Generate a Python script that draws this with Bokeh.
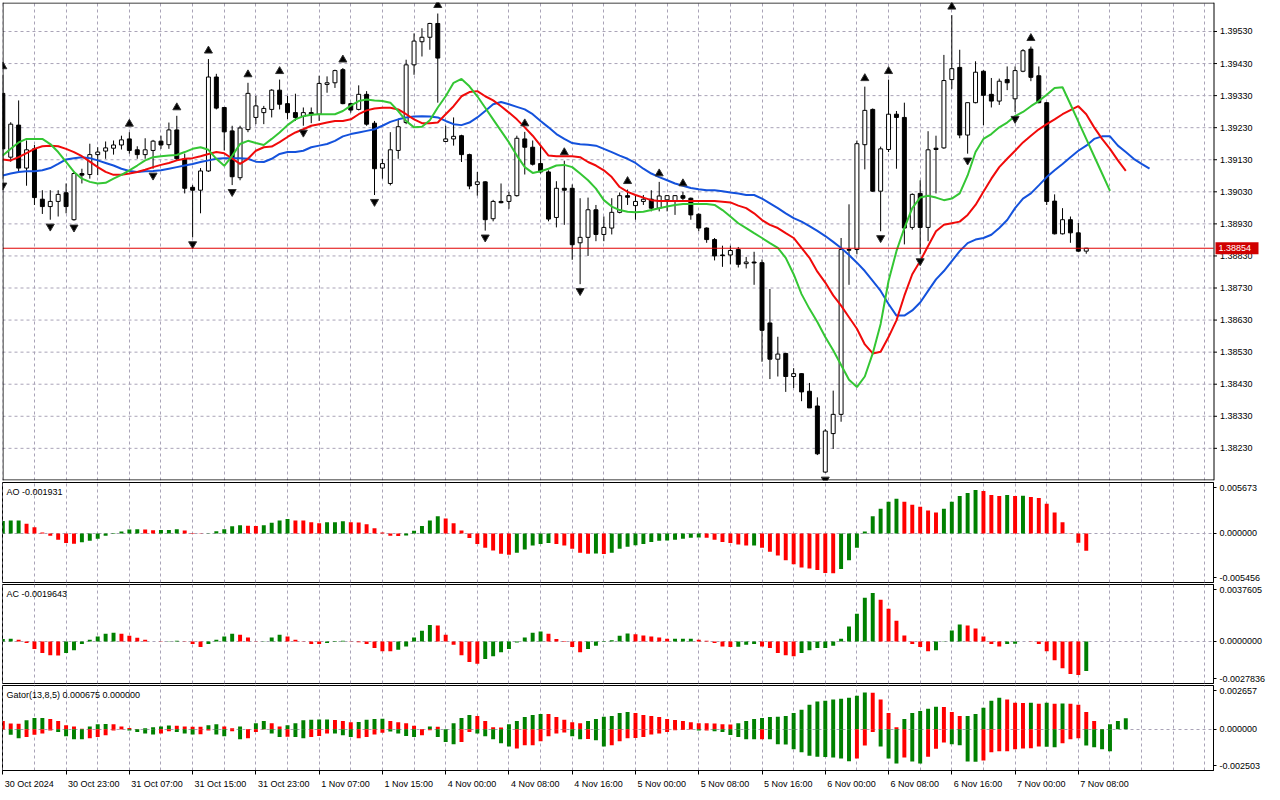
from bokeh.plotting import figure
from bokeh.models import Range1d, FixedTicker, Label
from bokeh.layouts import column
from bokeh.core.properties import value
from bokeh.embed import file_html
from bokeh.resources import INLINE

# ---------------- data ----------------
O = [1.39337,1.39138,1.39238,1.39104,1.39164,1.39007,1.38984,1.39000,1.39027,1.38943,
1.39087,1.39084,1.39146,1.39157,1.39166,1.39176,1.39195,1.39161,1.39146,1.39159,
1.39188,1.39177,1.39223,1.39133,1.39044,1.39035,1.39095,1.39388,1.39293,1.39220,
1.39074,1.39224,1.39262,1.39277,1.39287,1.39347,1.39305,1.39277,1.39265,1.39277,
1.39272,1.39365,1.39370,1.39411,1.39305,1.39287,1.39334,1.39244,1.39104,1.39056,
1.39159,1.39246,1.39426,1.39498,1.39512,1.39555,1.39187,1.39195,1.39205,1.39146,
1.39053,1.39061,1.38946,1.39000,1.39000,1.39018,1.39195,1.39169,1.39118,1.39092,
1.38950,1.39041,1.39041,1.38871,1.38888,1.38974,1.38897,1.38917,1.38966,1.39018,
1.38987,1.39000,1.39007,1.38979,1.39005,1.39001,1.39018,1.39010,1.38960,1.38917,
1.38881,1.38833,1.38833,1.38850,1.38806,1.38811,1.38809,1.38621,1.38508,1.38526,
1.38454,1.38463,1.38408,1.38362,1.38156,1.38276,1.38336,1.38850,1.38850,1.39177,
1.39287,1.39032,1.39162,1.39272,1.39262,1.38919,1.39025,1.38919,1.39166,1.39167,
1.39380,1.39418,1.39207,1.39308,1.39406,1.39334,1.39313,1.39380,1.39320,1.39406,
1.39475,1.39392,1.39308,1.39001,1.38899,1.38943,1.38902,1.38845]
H = [1.39395,1.39247,1.39315,1.39190,1.39176,1.39035,1.39035,1.39035,1.39056,1.39094,
1.39102,1.39180,1.39169,1.39187,1.39190,1.39205,1.39216,1.39172,1.39197,1.39192,
1.39205,1.39246,1.39267,1.39149,1.39051,1.39104,1.39444,1.39398,1.39294,1.39236,
1.39236,1.39370,1.39329,1.39298,1.39350,1.39380,1.39329,1.39336,1.39293,1.39293,
1.39392,1.39390,1.39411,1.39416,1.39308,1.39362,1.39344,1.39251,1.39133,1.39216,
1.39257,1.39442,1.39524,1.39540,1.39557,1.39586,1.39236,1.39262,1.39208,1.39149,
1.39092,1.39063,1.39005,1.39056,1.39030,1.39205,1.39217,1.39190,1.39174,1.39097,
1.39063,1.39127,1.39053,1.39010,1.39012,1.38989,1.38953,1.39010,1.39028,1.39037,
1.39018,1.39020,1.39035,1.39061,1.39020,1.39020,1.39030,1.39012,1.38963,1.38919,
1.38886,1.38862,1.38862,1.38858,1.38827,1.38843,1.38819,1.38727,1.38578,1.38528,
1.38480,1.38464,1.38434,1.38389,1.38290,1.38410,1.38886,1.38991,1.39190,1.39358,
1.39290,1.39171,1.39380,1.39282,1.39308,1.39025,1.39066,1.39219,1.39205,1.39457,
1.39581,1.39473,1.39308,1.39437,1.39409,1.39385,1.39383,1.39421,1.39421,1.39475,
1.39483,1.39421,1.39310,1.39022,1.38979,1.38953,1.38933,1.38855]
L = [1.39071,1.39124,1.39093,1.39049,1.38989,1.38961,1.38943,1.38953,1.38963,1.38940,
1.39056,1.39071,1.39082,1.39133,1.39146,1.39162,1.39149,1.39133,1.39133,1.39102,
1.39164,1.39164,1.39128,1.39025,1.38888,1.38963,1.39092,1.39287,1.39159,1.39051,
1.39066,1.39216,1.39241,1.39241,1.39262,1.39287,1.39257,1.39251,1.39236,1.39244,
1.39251,1.39339,1.39354,1.39303,1.39277,1.39284,1.39236,1.39020,1.39071,1.39050,
1.39133,1.39241,1.39395,1.39452,1.39473,1.39308,1.39185,1.39174,1.39123,1.39038,
1.39018,1.38909,1.38938,1.38994,1.38977,1.39015,1.39084,1.39112,1.39087,1.38938,
1.38919,1.38927,1.38818,1.38742,1.38830,1.38876,1.38876,1.38897,1.38963,1.38989,
1.38943,1.38989,1.38969,1.38969,1.38969,1.38958,1.39000,1.38943,1.38907,1.38871,
1.38816,1.38796,1.38804,1.38794,1.38791,1.38740,1.38500,1.38446,1.38454,1.38406,
1.38418,1.38377,1.38356,1.38209,1.38154,1.38228,1.38313,1.38740,1.38835,1.39100,
1.39030,1.38907,1.39154,1.39102,1.38866,1.38912,1.38835,1.38876,1.39025,1.39164,
1.39351,1.39197,1.39149,1.39306,1.39238,1.39293,1.39301,1.39347,1.39279,1.39403,
1.39375,1.39306,1.38989,1.38897,1.38897,1.38871,1.38843,1.38837]
C = [1.39164,1.39241,1.39104,1.39161,1.39012,1.38984,1.39000,1.39022,1.38984,1.39087,
1.39082,1.39146,1.39154,1.39167,1.39176,1.39192,1.39159,1.39146,1.39161,1.39188,
1.39176,1.39223,1.39133,1.39041,1.39035,1.39095,1.39388,1.39291,1.39217,1.39077,
1.39229,1.39337,1.39298,1.39290,1.39347,1.39303,1.39277,1.39262,1.39277,1.39270,
1.39368,1.39370,1.39408,1.39305,1.39285,1.39334,1.39241,1.39102,1.39118,1.39161,
1.39233,1.39426,1.39500,1.39512,1.39555,1.39447,1.39195,1.39203,1.39146,1.39048,
1.39061,1.38943,1.39000,1.38996,1.39018,1.39197,1.39169,1.39116,1.39092,1.38945,
1.39041,1.39035,1.38865,1.38888,1.38974,1.38897,1.38919,1.38966,1.39018,1.39013,
1.39000,1.39007,1.38979,1.39017,1.39018,1.39018,1.39010,1.38958,1.38917,1.38881,
1.38830,1.38831,1.38847,1.38804,1.38811,1.38808,1.38598,1.38508,1.38524,1.38454,
1.38463,1.38406,1.38356,1.38213,1.38284,1.38336,1.38850,1.38848,1.39180,1.39284,
1.39032,1.39164,1.39272,1.39262,1.38917,1.39022,1.38919,1.39161,1.39162,1.39377,
1.39414,1.39207,1.39308,1.39403,1.39331,1.39313,1.39375,1.39370,1.39408,1.39470,
1.39387,1.39308,1.39000,1.38899,1.38943,1.38902,1.38845,1.38854]

JAW = [1.39081,1.39087,1.39092,1.39094,1.39094,1.39097,1.39104,1.39117,1.39131,1.39135,
1.39138,1.39135,1.39128,1.39120,1.39112,1.39102,1.39095,1.39092,1.39094,1.39095,
1.39097,1.39102,1.39107,1.39112,1.39117,1.39123,1.39128,1.39133,1.39135,1.39135,
1.39135,1.39133,1.39124,1.39123,1.39133,1.39148,1.39154,1.39154,1.39158,1.39169,
1.39174,1.39179,1.39189,1.39203,1.39210,1.39215,1.39220,1.39225,1.39236,1.39248,
1.39256,1.39262,1.39265,1.39266,1.39265,1.39262,1.39251,1.39241,1.39238,1.39246,
1.39262,1.39282,1.39303,1.39310,1.39303,1.39295,1.39287,1.39272,1.39251,1.39231,
1.39210,1.39195,1.39182,1.39178,1.39177,1.39174,1.39164,1.39154,1.39143,1.39133,
1.39120,1.39102,1.39087,1.39076,1.39066,1.39056,1.39049,1.39042,1.39038,1.39035,
1.39035,1.39032,1.39028,1.39025,1.39020,1.39020,1.39009,1.38994,1.38979,1.38963,
1.38948,1.38937,1.38923,1.38908,1.38892,1.38874,1.38855,1.38833,1.38809,1.38783,
1.38752,1.38721,1.38680,1.38644,1.38644,1.38660,1.38685,1.38721,1.38757,1.38783,
1.38814,1.38845,1.38870,1.38881,1.38886,1.38896,1.38917,1.38942,1.38979,1.39009,
1.39025,1.39050,1.39076,1.39097,1.39117,1.39138,1.39158,1.39174,1.39195,1.39203,
1.39203,1.39174,1.39154,1.39133,1.39117,1.39102]
TEETH = [1.39131,1.39128,1.39138,1.39151,1.39164,1.39172,1.39174,1.39172,1.39164,1.39154,
1.39141,1.39124,1.39107,1.39092,1.39083,1.39083,1.39087,1.39092,1.39099,1.39107,
1.39114,1.39120,1.39128,1.39133,1.39135,1.39141,1.39148,1.39154,1.39150,1.39134,
1.39117,1.39133,1.39158,1.39169,1.39171,1.39185,1.39201,1.39215,1.39225,1.39236,
1.39241,1.39246,1.39251,1.39251,1.39256,1.39272,1.39284,1.39290,1.39292,1.39292,
1.39287,1.39272,1.39256,1.39244,1.39244,1.39246,1.39272,1.39297,1.39328,1.39341,
1.39344,1.39328,1.39315,1.39297,1.39277,1.39256,1.39231,1.39205,1.39174,1.39143,
1.39141,1.39141,1.39141,1.39138,1.39123,1.39112,1.39097,1.39076,1.39045,1.39030,
1.39020,1.39012,1.39004,1.39001,1.39001,1.39001,1.39001,1.39001,1.39001,1.39001,
1.39001,1.38999,1.38997,1.38987,1.38979,1.38963,1.38942,1.38927,1.38917,1.38901,
1.38886,1.38855,1.38824,1.38781,1.38747,1.38707,1.38675,1.38639,1.38603,1.38554,
1.38526,1.38531,1.38577,1.38629,1.38706,1.38773,1.38814,1.38861,1.38907,1.38927,
1.38932,1.38937,1.38958,1.38989,1.39030,1.39071,1.39107,1.39133,1.39158,1.39184,
1.39205,1.39225,1.39241,1.39256,1.39272,1.39285,1.39297,1.39272,1.39231,1.39195,
1.39164,1.39128,1.39095]
LIPS = [1.39143,1.39164,1.39184,1.39195,1.39195,1.39195,1.39179,1.39154,1.39123,1.39092,
1.39071,1.39061,1.39056,1.39058,1.39071,1.39083,1.39097,1.39112,1.39128,1.39138,
1.39141,1.39143,1.39145,1.39154,1.39164,1.39169,1.39161,1.39133,1.39111,1.39142,
1.39179,1.39189,1.39182,1.39176,1.39195,1.39215,1.39238,1.39256,1.39266,1.39270,
1.39272,1.39272,1.39272,1.39282,1.39299,1.39313,1.39318,1.39315,1.39313,1.39308,
1.39282,1.39251,1.39231,1.39233,1.39253,1.39293,1.39328,1.39370,1.39382,1.39359,
1.39328,1.39292,1.39256,1.39220,1.39184,1.39143,1.39107,1.39089,1.39094,1.39102,
1.39112,1.39114,1.39107,1.39087,1.39066,1.39040,1.39004,1.38984,1.38973,1.38968,
1.38966,1.38968,1.38973,1.38979,1.38984,1.38989,1.38992,1.38992,1.38992,1.38992,
1.38989,1.38973,1.38953,1.38932,1.38917,1.38901,1.38886,1.38870,1.38855,1.38824,
1.38773,1.38711,1.38665,1.38624,1.38577,1.38536,1.38490,1.38444,1.38421,1.38454,
1.38526,1.38618,1.38752,1.38845,1.38917,1.38979,1.39012,1.39018,1.39012,1.39004,
1.39009,1.39025,1.39081,1.39154,1.39195,1.39210,1.39231,1.39246,1.39266,1.39279,
1.39297,1.39313,1.39333,1.39354,1.39356,1.39303,1.39249,1.39195,1.39141,1.39087,
1.39033]

UP_FRACTALS = [0, 16, 22, 26, 31, 35, 43, 55, 66, 71, 79, 83, 86, 109, 112, 120, 130]
DOWN_FRACTALS = [0, 6, 9, 19, 24, 29, 38, 47, 61, 73, 104, 111, 116, 122, 128]

AO = [0.00138,0.00145,0.00145,0.00109,0.00069,0.00011,-0.00025,-0.00069,-0.00105,-0.00113,
-0.00098,-0.00080,-0.00058,-0.00025,-0.00007,0.00022,0.00044,0.00047,0.00045,0.00036,
0.00040,0.00038,0.00047,0.00033,0.00004,-0.00002,0.00002,0.00025,0.00047,0.00080,
0.00091,0.00087,0.00084,0.00091,0.00120,0.00145,0.00160,0.00145,0.00144,0.00124,
0.00113,0.00124,0.00125,0.00135,0.00124,0.00123,0.00102,0.00058,0.00011,-0.00025,
-0.00027,-0.00022,0.00029,0.00084,0.00145,0.00193,0.00167,0.00113,0.00033,-0.00051,
-0.00116,-0.00160,-0.00189,-0.00225,-0.00236,-0.00215,-0.00178,-0.00135,-0.00116,-0.00105,
-0.00116,-0.00135,-0.00171,-0.00215,-0.00225,-0.00222,-0.00228,-0.00215,-0.00171,-0.00149,
-0.00131,-0.00116,-0.00095,-0.00080,-0.00078,-0.00069,-0.00058,-0.00047,-0.00045,-0.00048,
-0.00069,-0.00095,-0.00105,-0.00124,-0.00135,-0.00133,-0.00160,-0.00204,-0.00244,-0.00298,
-0.00342,-0.00378,-0.00389,-0.00407,-0.00440,-0.00442,-0.00396,-0.00298,-0.00160,0.00022,
0.00193,0.00276,0.00353,0.00386,0.00353,0.00320,0.00298,0.00255,0.00233,0.00276,
0.00353,0.00418,0.00451,0.00484,0.00473,0.00429,0.00418,0.00429,0.00418,0.00420,
0.00407,0.00396,0.00331,0.00233,0.00124,0.00002,-0.00102,-0.001931]
AO_COLORS = list("gggrrrrrrr" "ggggggggrr" "gggrrrgggg" "grrggggrrr" "rgggrrrrrr"
                 "rgggggrrrr" "rrrrrggggg" "rrrrrgrggg" "gggggggggr" "rrrrrgrrrr"
                 "rrrrrrgggg" "ggggrrrrrg" "ggggrrrgrg" "rrrrrrrr")

AC = [0.00015,0.00017,0.00011,-0.00011,-0.00050,-0.00076,-0.00092,-0.00093,-0.00076,-0.00059,
-0.00017,0.00011,0.00033,0.00050,0.00057,0.00050,0.00037,0.00024,0.00011,-0.00001,
-0.00002,0.00001,0.00004,-0.00002,-0.00017,-0.00037,-0.00017,0.00011,0.00033,0.00050,
0.00044,0.00026,-0.00002,0.00001,0.00026,0.00044,0.00033,0.00011,-0.00002,-0.00017,
-0.00018,-0.00011,-0.00004,0.00004,-0.00002,-0.00006,-0.00017,-0.00044,-0.00065,-0.00066,
-0.00055,-0.00033,0.00026,0.00070,0.00109,0.00105,0.00044,-0.00022,-0.00092,-0.00137,
-0.00148,-0.00116,-0.00098,-0.00072,-0.00050,-0.00007,0.00026,0.00057,0.00065,0.00050,
0.00015,-0.00004,-0.00037,-0.00072,-0.00050,-0.00028,-0.00004,0.00007,0.00037,0.00052,
0.00048,0.00039,0.00033,0.00026,0.00017,0.00018,0.00018,0.00018,0.00011,0.00004,
-0.00011,-0.00033,-0.00037,-0.00035,-0.00022,-0.00017,-0.00033,-0.00044,-0.00076,-0.00092,
-0.00098,-0.00076,-0.00059,-0.00044,-0.00043,-0.00028,0.00017,0.00098,0.00183,0.00288,
0.00320,0.00275,0.00216,0.00137,0.00039,-0.00017,-0.00037,-0.00065,-0.00059,0.00001,
0.00072,0.00111,0.00105,0.00085,0.00033,-0.00017,-0.00033,-0.00017,-0.00016,-0.00001,
-0.00002,-0.00017,-0.00065,-0.00124,-0.00177,-0.00216,-0.00222,-0.0019643]
AC_COLORS = list("ggrrrrrrgg" "gggggrrrrr" "rggrrrgggg" "rrrgggrrrr" "rgggrrrrrr"
                 "gggggrrrrr" "rggggggggr" "rrrrgggggg" "rrrrrgggrr" "rrrgggrrrr"
                 "rggggggggg" "grrrrrrrgg" "ggrrrrrggg" "rrrrrrrg")

GATOR_UP = [0.00050,0.00035,0.00034,0.00054,0.00068,0.00069,0.00062,0.00050,0.00025,0.00017,
0.00003,0.00017,0.00031,0.00032,0.00031,0.00017,0.00008,0.00001,0.00006,0.00012,
0.00017,0.00023,0.00022,0.00017,0.00016,0.00015,0.00025,0.00031,0.00017,0.00006,
0.00017,0.00001,0.00037,0.00050,0.00037,0.00017,0.00025,0.00037,0.00054,0.00058,
0.00059,0.00060,0.00056,0.00050,0.00043,0.00044,0.00058,0.00062,0.00064,0.00050,
0.00043,0.00037,0.00021,0.00001,0.00017,0.00016,0.00000,0.00037,0.00068,0.00087,
0.00080,0.00050,0.00012,0.00011,0.00031,0.00050,0.00074,0.00087,0.00093,0.00092,
0.00074,0.00058,0.00043,0.00037,0.00050,0.00062,0.00076,0.00080,0.00099,0.00105,
0.00099,0.00087,0.00080,0.00074,0.00062,0.00056,0.00050,0.00043,0.00037,0.00036,
0.00035,0.00031,0.00029,0.00037,0.00050,0.00062,0.00068,0.00074,0.00076,0.00080,
0.00099,0.00118,0.00149,0.00169,0.00173,0.00180,0.00186,0.00192,0.00204,0.00223,
0.00222,0.00180,0.00099,0.00012,0.00062,0.00099,0.00111,0.00124,0.00136,0.00135,
0.00105,0.00080,0.00081,0.00093,0.00130,0.00173,0.00192,0.00180,0.00161,0.00160,
0.00161,0.00155,0.00161,0.00155,0.00156,0.00155,0.00149,0.00105,0.00050,0.00001,
0.00031,0.00050,0.000675]
GATOR_UP_COLORS = list("rrrgggrrrr" "rgggrrrrgg" "ggrrrrggrr" "grggrrgggg" "ggrrrggggr"
                       "rrrrgrgggg" "rrrrgggggr" "rrrrgggggg" "rrrrrrrrrr" "rrrggggggg"
                       "gggggggggg" "rrrrgggggr" "rrgggggrrr" "grgrgrrrrr" "ggg")
GATOR_DN = [-0.00002,-0.00033,-0.00054,-0.00047,-0.00033,-0.00025,-0.00008,-0.00017,-0.00043,-0.00060,
-0.00061,-0.00054,-0.00047,-0.00037,-0.00008,-0.00001,-0.00008,-0.00017,-0.00025,-0.00031,
-0.00025,-0.00012,-0.00017,-0.00025,-0.00031,-0.00030,-0.00008,-0.00031,-0.00043,-0.00012,
-0.00060,-0.00054,-0.00017,-0.00001,-0.00025,-0.00047,-0.00046,-0.00047,-0.00054,-0.00047,
-0.00041,-0.00025,-0.00025,-0.00037,-0.00047,-0.00054,-0.00047,-0.00031,-0.00021,-0.00014,
-0.00025,-0.00041,-0.00047,-0.00037,-0.00006,-0.00047,-0.00078,-0.00091,-0.00078,-0.00017,
-0.00025,-0.00043,-0.00060,-0.00085,-0.00105,-0.00116,-0.00097,-0.00097,-0.00072,-0.00043,
-0.00025,-0.00019,-0.00043,-0.00060,-0.00059,-0.00066,-0.00105,-0.00097,-0.00072,-0.00054,
-0.00053,-0.00047,-0.00031,-0.00025,-0.00017,-0.00006,-0.00005,-0.00002,-0.00008,-0.00007,
-0.00012,-0.00017,-0.00035,-0.00047,-0.00060,-0.00061,-0.00060,-0.00061,-0.00091,-0.00092,
-0.00122,-0.00140,-0.00161,-0.00167,-0.00168,-0.00171,-0.00178,-0.00194,-0.00178,-0.00099,
-0.00017,-0.00105,-0.00178,-0.00208,-0.00171,-0.00196,-0.00208,-0.00167,-0.00118,-0.00080,
-0.00091,-0.00097,-0.00196,-0.00197,-0.00190,-0.00140,-0.00134,-0.00133,-0.00122,-0.00116,
-0.00115,-0.00105,-0.00106,-0.00109,-0.00085,-0.00060,-0.00054,-0.00099,-0.00109,-0.00122,
-0.00134]
GATOR_DN_COLORS = list("rggrrrrggg" "grrrrrgggg" "rrgggrrggr" "grrrggrggr" "rrgggrrrrg"
                       "gggrrgggrr" "gggggrrrrr" "rrggrggrrr" "rrrrrrrrgr" "ggggggrggg"
                       "ggggggggrr" "rgggrggrrr" "ggggrrrrrr" "rrggrrrggg" "g")

PRICE_TICKS = [1.38230, 1.38330, 1.38430, 1.38530, 1.38630, 1.38730, 1.38830,
               1.38930, 1.39030, 1.39130, 1.39230, 1.39330, 1.39430, 1.39530]
TIME_BARS = [0, 8, 16, 24, 32, 40, 48, 56, 64, 72, 80, 88, 96, 104, 112, 120, 128, 136]
TIME_LABELS = ["30 Oct 2024", "30 Oct 23:00", "31 Oct 07:00", "31 Oct 15:00", "31 Oct 23:00",
               "1 Nov 07:00", "1 Nov 15:00", "4 Nov 00:00", "4 Nov 08:00", "4 Nov 16:00",
               "5 Nov 00:00", "5 Nov 08:00", "5 Nov 16:00", "6 Nov 00:00", "6 Nov 08:00",
               "6 Nov 16:00", "7 Nov 00:00", "7 Nov 08:00"]
AO_AXIS = (-0.005456, 0.005673, ["0.005673", "0.000000", "-0.005456"])
AC_AXIS = (-0.0027836, 0.0037605, ["0.0037605", "0.0000000", "-0.0027836"])
GATOR_AXIS = (-0.002503, 0.002657, ["0.002657", "0.000000", "-0.002503"])
MAIN_RANGE = (1.381297, 1.396204)

# ---------------- styling ----------------
FONT = "Liberation Sans"
FS = "9px"
GRID = "#a9a3b7"
CMAP = {"g": "#008000", "r": "#ff0000"}
FW = 1211          # width of the data area of every panel
AXW = 57           # room for the price scale on the right
MAIN_H = 478
X0, X1 = -0.04, 153.09
xr = Range1d(X0, X1)
ppb = FW / (X1 - X0)          # pixels per bar


def style_grid(g):
    g.grid_line_color = GRID
    g.grid_line_dash = "3 3"
    g.grid_line_width = 1


def make_fig(fh, y0, y1, top=1, xaxis=False):
    p = figure(frame_width=FW, frame_height=fh, x_range=xr, y_range=Range1d(y0, y1),
               tools="", toolbar_location=None, output_backend="svg",
               x_axis_location="below" if xaxis else None, y_axis_location="right",
               min_border_left=2, min_border_right=AXW, min_border_top=top, min_border_bottom=1)
    p.background_fill_color = "white"
    p.border_fill_color = "white"
    p.outline_line_color = "black"
    p.outline_line_width = 1
    p.xgrid.ticker = FixedTicker(ticks=list(range(0, 153, 4)))
    style_grid(p.xgrid)
    style_grid(p.ygrid)
    ax = p.yaxis[0]
    ax.axis_line_color = "black"
    ax.major_tick_line_color = "black"
    ax.major_tick_out = 3
    ax.major_tick_in = 0
    ax.minor_tick_line_color = None
    ax.major_label_standoff = 3
    ax.major_label_text_font = FONT
    ax.major_label_text_font_size = FS
    ax.major_label_text_color = "black"
    return p


# ---------------- main price panel ----------------
# The price scale (with the red current-price tag) lives inside this figure's frame,
# to the right of the bar area, so that the tag can be drawn over the scale.
XM = X1 + AXW / ppb
pm = figure(frame_width=FW + AXW, frame_height=MAIN_H, x_range=Range1d(X0, XM),
            y_range=Range1d(*MAIN_RANGE), tools="", toolbar_location=None,
            output_backend="svg", x_axis_location=None, y_axis_location=None,
            min_border_left=2, min_border_right=0, min_border_top=2, min_border_bottom=1)
pm.background_fill_color = "white"
pm.border_fill_color = "white"
pm.outline_line_color = None
pm.xgrid.ticker = FixedTicker(ticks=list(range(0, 153, 4)))
style_grid(pm.xgrid)
pm.ygrid.grid_line_color = None

n_t = len(PRICE_TICKS)
pm.segment(x0=[X0] * n_t, y0=PRICE_TICKS, x1=[X1] * n_t, y1=PRICE_TICKS,
           line_color=GRID, line_dash="3 3", line_width=1)

idx = list(range(len(C)))
tops = [max(o, c) for o, c in zip(O, C)]
bots = [min(o, c) for o, c in zip(O, C)]
fills = ["white" if c >= o else "black" for o, c in zip(O, C)]
pm.segment(x0=idx, y0=L, x1=idx, y1=H, line_color="black", line_width=1)
pm.vbar(x=idx, width=0.5, top=tops, bottom=bots, fill_color=fills,
        line_color="black", line_width=1)

pm.line(list(range(len(JAW))), JAW, line_color="#1452dc", line_width=2)
pm.line(list(range(len(TEETH))), TEETH, line_color="#f00a0a", line_width=2)
pm.line(list(range(len(LIPS))), LIPS, line_color="#34c634", line_width=2)

UP_OFF, DN_OFF = 0.00026, 0.00021
pm.scatter(UP_FRACTALS, [H[i] + UP_OFF for i in UP_FRACTALS], marker="triangle",
           size=8, fill_color="black", line_color="#303030")
pm.scatter(DOWN_FRACTALS, [L[i] - DN_OFF for i in DOWN_FRACTALS], marker="inverted_triangle",
           size=8, fill_color="black", line_color="#303030")

last = C[-1]
pm.segment(x0=[X0], y0=[last], x1=[X1], y1=[last], line_color="#e00000", line_width=1)

# panel border and price scale
ppy = MAIN_H / (MAIN_RANGE[1] - MAIN_RANGE[0])
half_x, half_y = 0.5 / ppb, 0.5 / ppy
pm.segment(x0=[X0, X0], x1=[X1 + half_x, X1 + half_x],
           y0=[MAIN_RANGE[1] - half_y, MAIN_RANGE[0] + half_y],
           y1=[MAIN_RANGE[1] - half_y, MAIN_RANGE[0] + half_y], line_color="black", line_width=1)
pm.segment(x0=[X0 + half_x, X1 + half_x], x1=[X0 + half_x, X1 + half_x],
           y0=[MAIN_RANGE[0]] * 2, y1=[MAIN_RANGE[1]] * 2, line_color="black", line_width=1)
pm.segment(x0=[X1] * n_t, x1=[X1 + 3.5 / ppb] * n_t, y0=PRICE_TICKS, y1=PRICE_TICKS,
           line_color="black", line_width=1)
pm.text(x=[X1 + 6.5 / ppb] * n_t, y=PRICE_TICKS, text=[f"{t:.5f}" for t in PRICE_TICKS],
        text_font=value(FONT), text_font_size=value(FS), text_color="black",
        text_baseline="middle", text_align="left")
# current price tag
pm.rect(x=[X1 + (2 + 21.5) / ppb], y=[last], width=43, height=12,
        width_units="screen", height_units="screen", fill_color="#d00000", line_color=None)
pm.text(x=[X1 + 5 / ppb], y=[last], text=[f"{last:.5f}"], text_font=value(FONT),
        text_font_size=value(FS), text_color="white", text_baseline="middle", text_align="left")


def sub(fh, axis_spec, title, xaxis=False):
    lo, hi, labels = axis_spec
    p = make_fig(fh, lo, hi, xaxis=xaxis)
    p.ygrid.ticker = FixedTicker(ticks=[0.0])
    inset = 5.0 / fh * (hi - lo)
    ticks = [hi - inset, 0.0, lo + inset]
    p.yaxis.ticker = FixedTicker(ticks=ticks)
    p.yaxis.major_label_overrides = dict(zip(ticks, labels))
    p.add_layout(Label(x=4, y=fh - 4, x_units="screen", y_units="screen", text=title,
                       text_font=FONT, text_font_size=FS, text_color="black",
                       text_baseline="top", text_align="left"))
    return p


# ---------------- AO ----------------
pao = sub(100, AO_AXIS, "AO -0.001931")
pao.vbar(x=list(range(len(AO))), width=0.5, top=AO, bottom=0,
         fill_color=[CMAP[c] for c in AO_COLORS], line_color=None)

# ---------------- AC ----------------
pac = sub(99, AC_AXIS, "AC -0.0019643")
pac.vbar(x=list(range(len(AC))), width=0.5, top=AC, bottom=0,
         fill_color=[CMAP[c] for c in AC_COLORS], line_color=None)

# ---------------- Gator ----------------
pg = sub(85, GATOR_AXIS, "Gator(13,8,5) 0.000675 0.000000", xaxis=True)
pg.vbar(x=list(range(len(GATOR_UP))), width=0.5, top=GATOR_UP, bottom=0,
        fill_color=[CMAP[c] for c in GATOR_UP_COLORS], line_color=None)
pg.vbar(x=list(range(len(GATOR_DN))), width=0.5, top=0, bottom=GATOR_DN,
        fill_color=[CMAP[c] for c in GATOR_DN_COLORS], line_color=None)

# time axis: labels start at their tick, like the terminal does
CW = {**{d: 0.556 for d in "0123456789"}, " ": 0.278, ":": 0.278, "O": 0.778,
      "c": 0.5, "t": 0.278, "N": 0.722, "o": 0.556, "v": 0.5}
centers = [b + (2 + sum(CW.get(ch, 0.556) for ch in s) * 9 / 2) / ppb
           for b, s in zip(TIME_BARS, TIME_LABELS)]
xa = pg.xaxis[0]
xa.ticker = FixedTicker(ticks=centers, minor_ticks=TIME_BARS)
xa.major_label_overrides = dict(zip(centers, TIME_LABELS))
xa.major_tick_line_color = None
xa.minor_tick_line_color = "black"
xa.minor_tick_out = 4
xa.minor_tick_in = 0
xa.axis_line_color = "black"
xa.major_label_standoff = 2
xa.major_label_text_font = FONT
xa.major_label_text_font_size = FS
xa.major_label_text_color = "black"

layout = column(pm, pao, pac, pg)
open("out.html", "w").write(file_html(layout, INLINE))
